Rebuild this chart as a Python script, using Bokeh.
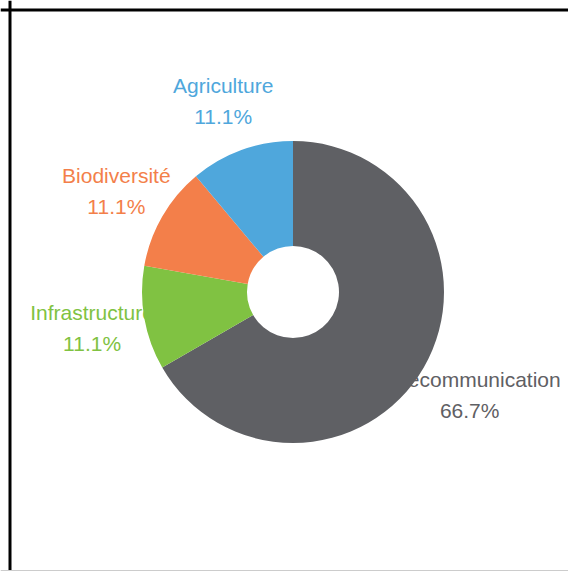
import math
from bokeh.plotting import figure
from bokeh.models import Range1d, ColumnDataSource, Span
from bokeh.core.properties import value
from bokeh.embed import file_html
from bokeh.resources import INLINE

categories = ["Télécommunication", "Infrastructure", "Biodiversité", "Agriculture"]
values = [6, 1, 1, 1]
colors = ["#5f6064", "#80c242", "#f37f4a", "#4fa7dc"]

total = sum(values)
starts, ends, pct = [], [], []
acc = 0.0
for v in values:
    s = math.pi / 2 - 2 * math.pi * acc / total
    e = s - 2 * math.pi * v / total
    starts.append(s)
    ends.append(e)
    pct.append(f"{100.0 * v / total:.1f}%")
    acc += v

R_OUT, R_IN, R_LAB = 151, 46, 204
mids = [(s + e) / 2 for s, e in zip(starts, ends)]
lx = [R_LAB * math.cos(m) for m in mids]
ly = [R_LAB * math.sin(m) for m in mids]

src = ColumnDataSource(dict(cat=categories, pct=pct, color=colors,
                            start=starts, end=ends, lx=lx, ly=ly))

W, H = 568, 571
CX, CY = 292.5, 291.5  # pie centre in canvas pixels
p = figure(width=W, height=H, x_range=Range1d(-CX, W - CX),
           y_range=Range1d(CY - H, CY), output_backend="svg",
           toolbar_location=None, min_border=0)
p.axis.visible = False
p.grid.visible = False
p.outline_line_color = None
p.background_fill_color = "white"
p.border_fill_color = "white"

font = value("Liberation Sans")
p.text(x="lx", y="ly", text="cat", source=src, text_color="color",
       text_font=font, text_font_size="21px", text_align="center",
       text_baseline="alphabetic", y_offset=-15)
p.text(x="lx", y="ly", text="pct", source=src, text_color="color",
       text_font=font, text_font_size="21px", text_align="center",
       text_baseline="alphabetic", y_offset=16)

p.annular_wedge(x=0, y=0, inner_radius=R_IN, outer_radius=R_OUT,
                start_angle="start", end_angle="end", direction="clock",
                fill_color="color", line_color=None, source=src)

# frame lines (left and top black, bottom faint)
p.add_layout(Span(location=p.x_range.start + 9.5, dimension="height",
                  line_color="black", line_width=3))
p.add_layout(Span(location=p.y_range.end - 9.5, dimension="width",
                  line_color="black", line_width=3))
p.add_layout(Span(location=p.y_range.start + 1, dimension="width",
                  line_color="#cccccc", line_width=1))

open("out.html", "w").write(file_html(p, INLINE))
